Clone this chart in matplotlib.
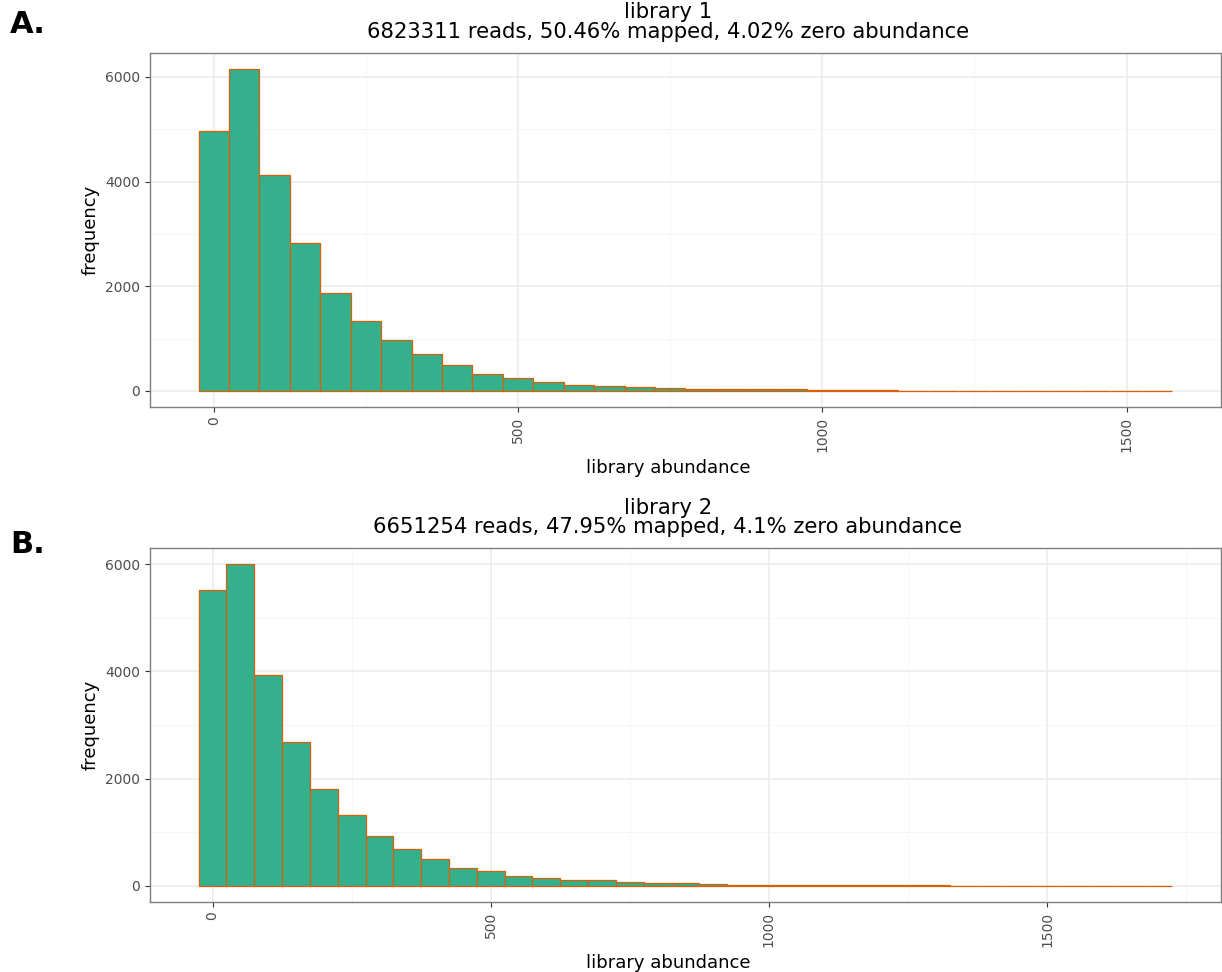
import numpy as np
import matplotlib
matplotlib.use("Agg")
import matplotlib.pyplot as plt
from matplotlib.ticker import MultipleLocator

# histogram counts, bins of width 50 centred on 0, 50, 100, ...
bin_width = 50
lib1_counts = [4970, 6150, 4130, 2830, 1870, 1340, 975, 710, 500, 330, 250, 175,
               120, 100, 83, 62, 42, 38, 35, 33, 16, 14, 12, 7, 6, 6, 5, 5, 4, 4, 3, 3]
lib2_counts = [5520, 6000, 3930, 2675, 1810, 1325, 930, 680, 510, 335, 277, 186,
               149, 111, 105, 68, 56, 62, 45, 26, 24, 22, 15, 15, 10, 8, 8, 7, 7, 6,
               5, 5, 4, 4, 3]
titles = ["library 1\n6823311 reads, 50.46% mapped, 4.02% zero abundance",
          "library 2\n6651254 reads, 47.95% mapped, 4.1% zero abundance"]
panel_labels = ["A.", "B."]

fill_col = "#34b08c"
edge_col = "#d95f02"

fig = plt.figure(figsize=(12.22, 9.72), dpi=100)
ax1 = fig.add_axes([0.1227, 0.5813, 0.8764, 0.3642])
ax2 = fig.add_axes([0.1227, 0.0720, 0.8764, 0.3642])

# title and x label sit a little left of the panel centre in the original
text_x = 0.4837


def draw_hist(ax, counts, title):
    centers = np.arange(len(counts)) * bin_width
    ax.bar(centers, counts, width=bin_width, color=fill_col,
           edgecolor=edge_col, linewidth=0.9, zorder=3)
    lo = centers[0] - bin_width / 2
    hi = centers[-1] + bin_width / 2
    pad = (hi - lo) * 0.05
    ax.set_xlim(lo - pad, hi + pad)
    ymax = max(counts)
    ax.set_ylim(-ymax * 0.05, ymax * 1.05)

    ax.xaxis.set_major_locator(MultipleLocator(500))
    ax.xaxis.set_minor_locator(MultipleLocator(250))
    ax.yaxis.set_major_locator(MultipleLocator(2000))
    ax.yaxis.set_minor_locator(MultipleLocator(1000))
    ax.grid(which="major", color="#ebebeb", linewidth=1.1, zorder=0)
    ax.grid(which="minor", color="#f5f5f5", linewidth=0.6, zorder=0)
    ax.set_axisbelow(True)
    ax.tick_params(which="minor", length=0)
    ax.tick_params(which="major", length=3.5, width=0.8, color="#333333",
                   labelsize=10, labelcolor="#4d4d4d")
    ax.tick_params(axis="x", labelrotation=90)
    for s in ax.spines.values():
        s.set_color("#7f7f7f")
        s.set_linewidth(1.0)

    ax.set_xlabel("library abundance", fontsize=13, labelpad=4)
    ax.xaxis.set_label_coords(text_x, -0.146)
    ax.set_ylabel("frequency", fontsize=13, labelpad=4)
    ax.set_title(title, fontsize=15.2, pad=11, linespacing=0.95, x=text_x)


draw_hist(ax1, lib1_counts, titles[0])
draw_hist(ax2, lib2_counts, titles[1])

fig.text(0.008, 0.975, panel_labels[0], fontsize=22, fontweight="bold", va="center")
fig.text(0.008, 0.440, panel_labels[1], fontsize=22, fontweight="bold", va="center")

fig.savefig("out.png", dpi=100)
